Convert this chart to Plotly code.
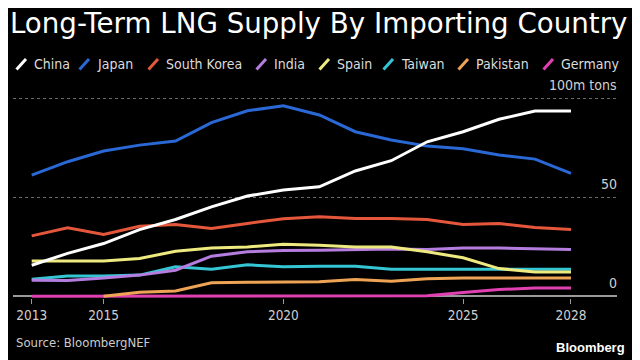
import plotly.graph_objects as go

years = list(range(2013, 2029))

china = [15.7, 21.7, 26.7, 33.8, 38.9, 45.3, 50.8, 53.8, 55.5, 63.5, 68.7, 78.3, 83.4, 89.7, 93.9, 93.9]
japan = [61.4, 68.2, 73.6, 76.6, 78.7, 88.0, 94.0, 96.6, 91.9, 83.4, 79.2, 76.1, 74.8, 71.6, 69.5, 62.3]
south_korea = [30.6, 34.7, 31.3, 35.5, 36.4, 34.4, 36.9, 39.3, 40.3, 39.4, 39.4, 38.9, 36.4, 36.9, 34.9, 33.8]
india = [8.1, 8.0, 9.3, 10.7, 13.2, 20.3, 22.5, 23.2, 23.3, 23.7, 23.9, 23.7, 24.5, 24.4, 23.9, 23.7]
spain = [17.8, 17.8, 17.8, 19.1, 22.8, 24.5, 25.0, 26.4, 25.9, 25.0, 25.0, 22.5, 19.5, 14.0, 12.3, 12.3]
taiwan = [8.6, 10.2, 10.2, 10.7, 14.9, 13.7, 15.9, 14.9, 15.2, 15.2, 13.7, 13.7, 13.7, 13.7, 13.7, 13.7]
pakistan = [None, None, 0.0, 2.0, 2.7, 6.8, 7.1, 7.1, 7.3, 8.5, 7.6, 8.8, 9.3, 9.3, 9.3, 9.3]
germany = [0.0, 0.0, 0.0, 0.0, 0.0, 0.0, 0.0, 0.0, 0.0, 0.0, 0.0, 0.3, 1.9, 3.4, 4.2, 4.2]

series_names = ["China", "Japan", "South Korea", "India", "Spain", "Taiwan", "Pakistan", "Germany"]
series_values = [china, japan, south_korea, india, spain, taiwan, pakistan, germany]
colors = ["#ffffff", "#2a68d6", "#e5573b", "#b47ddf", "#eeea80", "#35c6d4", "#eea454", "#e040b0"]

x_tick_vals = [2013, 2015, 2020, 2025, 2028]
x_tick_text = ["2013", "2015", "2020", "2025", "2028"]
y_tick_vals = [0, 50, 100]
y_tick_text = ["0", "50", "100m tons"]

FONT = "DejaVu Sans Condensed, DejaVu Sans, sans-serif"

# Page geometry (the page body adds an 8px offset, compensated in margins)
OFF = 8
PL, PR, PT, PB = 13, 617, 97, 297.8     # plot area in page pixels
PW, PH = PR - PL, PB - PT


def px(x):
    return (x - PL) / PW


def py(y):
    return (PB - y) / PH


fig = go.Figure()
order = [7, 6, 5, 3, 4, 2, 1, 0]
for i in order:
    fig.add_trace(go.Scatter(
        x=years, y=series_values[i], name=series_names[i], mode="lines",
        line=dict(color=colors[i], width=3), showlegend=False,
    ))

# legend: slash markers + labels
legend_x = [15, 78, 147, 255, 318, 382, 457, 542]
for name, col, lx in zip(series_names, colors, legend_x):
    fig.add_shape(type="line", xref="paper", yref="paper",
                  x0=px(lx + 1.5), y0=py(69.5), x1=px(lx + 11), y1=py(59),
                  line=dict(color=col, width=3))
    fig.add_annotation(text=name, xref="paper", yref="paper",
                       x=px(lx + 16.5), y=py(64.5), xanchor="left", yanchor="middle",
                       showarrow=False,
                       font=dict(family=FONT, size=14, color="#dcdcdc"))

# y-axis labels placed just above their gridlines at the right edge
for v, t in zip(y_tick_vals, y_tick_text):
    fig.add_annotation(text=t, xref="paper", yref="y", x=px(619), y=v,
                       xanchor="right", yanchor="middle", yshift=13.5,
                       showarrow=False,
                       font=dict(family=FONT, size=14, color="#d0d0d0"))

fig.update_layout(
    width=640, height=360,
    paper_bgcolor="#000000", plot_bgcolor="#000000",
    margin=dict(l=PL - OFF, r=640 - (PR - OFF), t=PT - OFF, b=360 - (PB - OFF)),
    title=dict(text="Long-Term LNG Supply By Importing Country",
               x=0.003, xanchor="left", y=1 - (23.5 - OFF) / 360, yanchor="middle",
               font=dict(family="DejaVu Sans, sans-serif", size=27.7, color="#ffffff")),
    xaxis=dict(range=[2012.48, 2029.28], tickvals=x_tick_vals, ticktext=x_tick_text,
               showgrid=False, zeroline=False, showline=False,
               ticks="outside", ticklen=5, tickcolor="#9a9a9a", tickwidth=1,
               tickfont=dict(family=FONT, size=13.5, color="#d0d0d0")),
    yaxis=dict(range=[-0.9, 101], tickvals=y_tick_vals, showticklabels=False,
               side="right",
               showgrid=True, gridcolor="#6a6a6a", griddash="dot", gridwidth=1,
               zeroline=True, zerolinecolor="#9a9a9a", zerolinewidth=1.5,
               showline=False, ticks=""),
    showlegend=False,
)

fig.add_annotation(text="Source: BloombergNEF", xref="paper", yref="paper",
                   x=px(14), y=py(342), xanchor="left", yanchor="middle",
                   showarrow=False, font=dict(family=FONT, size=13, color="#cccccc"))
fig.add_annotation(text="<b>Bloomberg</b>", xref="paper", yref="paper",
                   x=px(627), y=py(347), xanchor="right", yanchor="middle",
                   showarrow=False, font=dict(family="Liberation Sans, Arial, sans-serif", size=13, color="#ffffff"))

fig.write_html("out.html")
